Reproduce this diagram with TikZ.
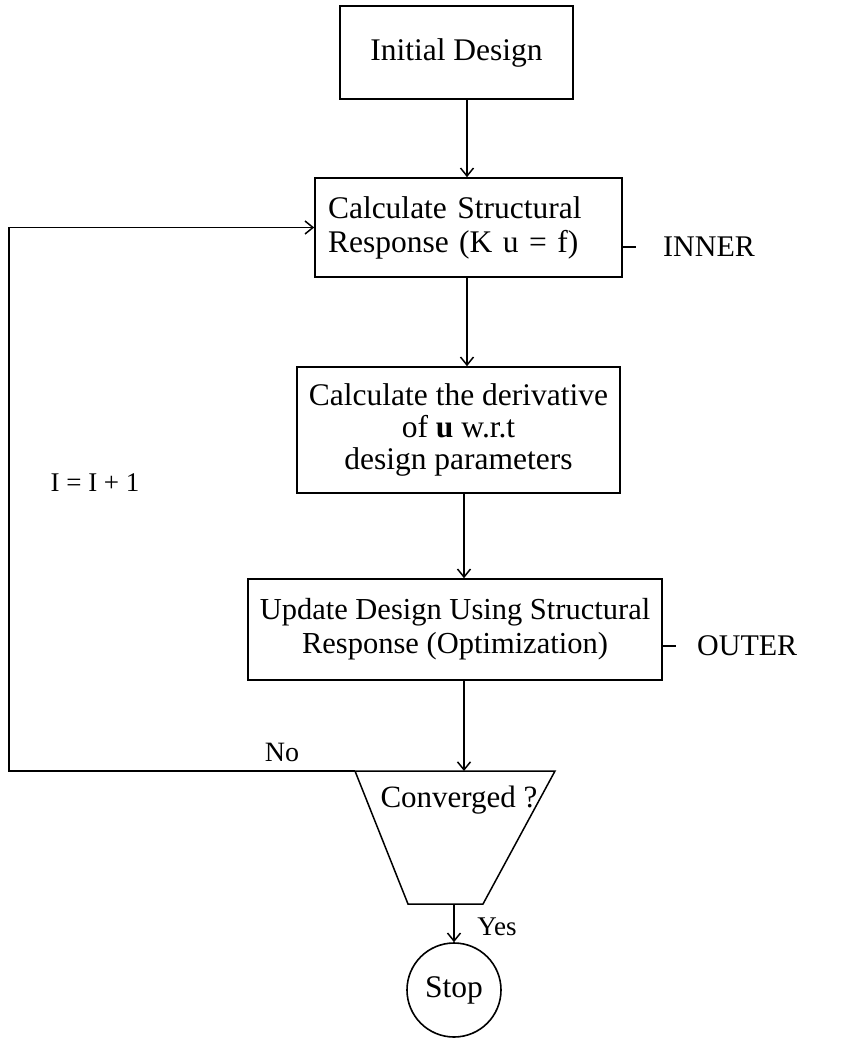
\documentclass[tikz,border=0pt]{standalone}
\usepackage{fontspec}
\setmainfont{Liberation Serif}
\usetikzlibrary{arrows.meta}
\begin{document}
\begin{tikzpicture}[x=1pt,y=-1pt,
  box/.style={draw,line width=1.6pt,inner sep=0pt,font=\fontsize{31.5}{34}\selectfont},
  lbl/.style={inner sep=0pt,font=\fontsize{30}{34}\selectfont},
  link/.style={line width=1.5pt},
  arr/.style={link,-{Straight Barb[length=8pt,width=13pt,line width=1.5pt]}}]
\useasboundingbox (0,0) rectangle (851,1038);

% process boxes
\node[box,minimum width=233pt,minimum height=93pt] (init) at (456.5,52.5) {Initial Design};
\node[box,text width=281pt,inner xsep=13pt,minimum height=99pt,align=left] (calc) at (468.5,227.5)
  {Calculate Structural\\Response (K u = f)};
\node[box,minimum width=323pt,minimum height=126pt,align=center,font=\fontsize{31.5}{32}\selectfont] (deriv) at (458.5,430)
  {Calculate the derivative\\of \textbf{u} w.r.t\\design parameters};
\node[box,minimum width=414pt,minimum height=101pt,align=center,font=\fontsize{30.5}{34}\selectfont] (update) at (455,629.5)
  {Update Design Using Structural\\Response (Optimization)};

% decision (trapezoid)
\coordinate (tl) at (355,771);
\coordinate (tr) at (555,771);
\coordinate (br) at (483,904);
\coordinate (bl) at (408,904);
\draw[line width=1.5pt] (tl) -- (tr) -- (br) -- (bl) -- cycle;
\node[lbl,font=\fontsize{31}{34}\selectfont] (conv) at (459,800) {Converged ?};

% terminal
\node[draw,circle,line width=1.6pt,minimum size=94pt,inner sep=0pt,font=\fontsize{31.5}{34}\selectfont] (stop) at (454,990) {Stop};

% main flow
\coordinate (s1) at (467,0);
\coordinate (s2) at (464,0);
\draw[arr] (init.south -| s1) -- (calc.north -| s1);
\draw[arr] (calc.south -| s1) -- (deriv.north -| s1);
\draw[arr] (deriv.south -| s2) -- (update.north -| s2);
\draw[arr] (update.south -| s2) -- (tl -| s2);
\coordinate (yb) at (454,904);
\draw[arr] (yb) -- (stop.north);
\node[lbl,font=\fontsize{27}{30}\selectfont] (yes) at (497,927) {Yes};

% iteration loop
\coordinate (lb) at (9,771);
\draw[arr] (tl) -- (lb) -- (lb |- calc.west) -- (calc.west);
\node[lbl,font=\fontsize{28}{30}\selectfont] (no) at (282,752) {No};
\node[lbl,font=\fontsize{27}{30}\selectfont] (iter) at (95,483) {I = I + 1};

% loop level tags
\node[lbl,anchor=west] (inner) at (663,247) {INNER};
\draw[link] (calc.east |- inner.west) -- ++(13,0);
\node[lbl,anchor=west] (outer) at (697,646) {OUTER};
\draw[link] (update.east |- outer.west) -- ++(13,0);
\end{tikzpicture}
\end{document}
